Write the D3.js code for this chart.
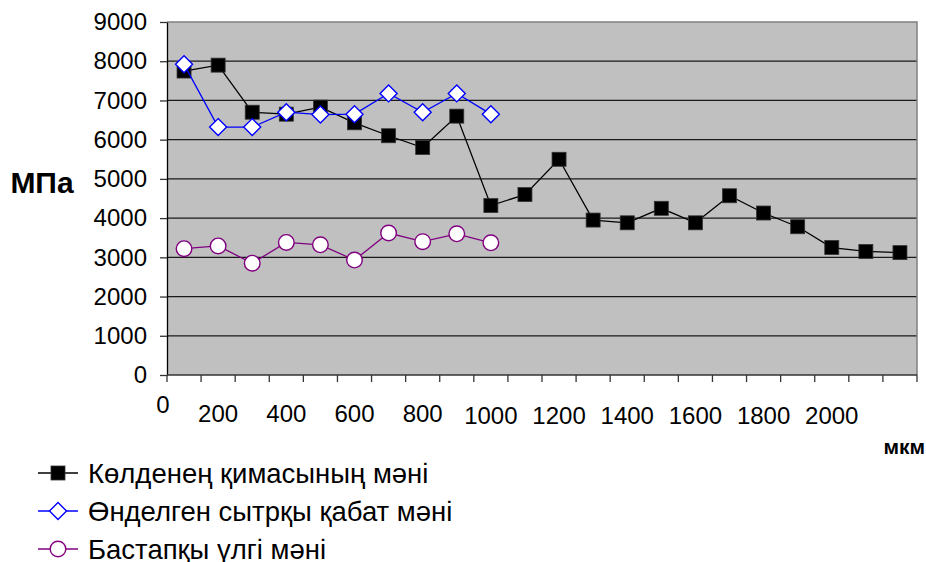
<!DOCTYPE html>
<html>
<head>
<meta charset="utf-8">
<script src="https://cdn.jsdelivr.net/npm/d3@7"></script>
<style>
  body { margin: 0; background: #fff; }
  text { font-family: "Liberation Sans", Arial, sans-serif; fill: #000; }
</style>
</head>
<body>
<div id="chart"></div>
<script>
// categories (22 measuring points along the depth)
var categories = d3.range(1, 23);

// series values, MPa
var seriesBlack = [7750, 7900, 6700, 6650, 6830, 6430, 6100, 5800, 6600, 4320, 4600,
                   5500, 3950, 3880, 4250, 3880, 4570, 4130, 3780, 3250, 3150, 3120];
var seriesBlue = [7920, 6320, 6320, 6700, 6640, 6650, 7180, 6700, 7180, 6650];
var seriesPurple = [3220, 3290, 2850, 3380, 3320, 2930, 3620, 3400, 3600, 3370];

var seriesNames = ["Көлденең қимасының мәні", "Өнделген сытрқы қабат мәні", "Бастапқы үлгі мәні"];

// tick labels
var yTicks = [0, 1000, 2000, 3000, 4000, 5000, 6000, 7000, 8000, 9000];
var xTickLabels = ["0", "200", "400", "600", "800", "1000", "1200", "1400", "1600", "1800", "2000"];

var width = 926, height = 562;
var margin = {top: 22, right: 9, bottom: 187, left: 167};
var plotW = width - margin.left - margin.right,
    plotH = height - margin.top - margin.bottom;

var svg = d3.select("#chart")
  .append("svg")
    .attr("width", width)
    .attr("height", height);

var g = svg.append("g")
    .attr("transform", "translate(" + margin.left + "," + margin.top + ")");

var x = d3.scaleBand()
    .domain(categories)
    .range([0, plotW]);

var y = d3.scaleLinear()
    .domain([0, 9000])
    .range([plotH, 0]);

function cx(i) { return x(categories[i]) + x.bandwidth() / 2; }

// plot area
g.append("rect")
  .attr("width", plotW)
  .attr("height", plotH)
  .attr("fill", "#c0c0c0");

// gridlines
g.selectAll("line.grid")
  .data(yTicks.slice(1, -1))
  .enter()
  .append("line")
  .attr("class", "grid")
  .attr("x1", 0).attr("x2", plotW)
  .attr("y1", function(d) { return y(d); })
  .attr("y2", function(d) { return y(d); })
  .attr("stroke", "#1a1a1a")
  .attr("stroke-width", 1.3);

// top and right border
g.append("path")
  .attr("d", "M0," + y(9000) + "H" + plotW + "V" + plotH)
  .attr("fill", "none")
  .attr("stroke", "#808080")
  .attr("stroke-width", 1.5);

// y axis
var yAxis = g.append("g")
  .call(d3.axisLeft(y)
    .tickValues(yTicks)
    .tickFormat(d3.format("d"))
    .tickSize(7)
    .tickPadding(13)
    .tickSizeOuter(0));
yAxis.select(".domain").attr("stroke", "#000").attr("stroke-width", 1.3);
yAxis.selectAll(".tick line").attr("stroke", "#333").attr("stroke-width", 1.3);
yAxis.selectAll(".tick text")
  .attr("font-size", "24px")
  .attr("font-family", "'Liberation Sans', Arial, sans-serif")
  .attr("fill", "#000");

// x axis: ticks at category boundaries
var xAxis = g.append("g")
  .attr("transform", "translate(0," + plotH + ")");
xAxis.append("line")
  .attr("x1", 0).attr("x2", plotW)
  .attr("stroke", "#333")
  .attr("stroke-width", 1.3);
xAxis.selectAll("line.tick")
  .data(d3.range(categories.length + 1))
  .enter()
  .append("line")
  .attr("class", "tick")
  .attr("x1", function(d) { return d * x.step(); })
  .attr("x2", function(d) { return d * x.step(); })
  .attr("y1", 0).attr("y2", 7)
  .attr("stroke", "#333")
  .attr("stroke-width", 1.3);

// x labels: "0" at the origin, the rest under every other category
xAxis.selectAll("text.xlabel")
  .data(xTickLabels)
  .enter()
  .append("text")
  .attr("class", "xlabel")
  .attr("text-anchor", "middle")
  .attr("font-size", "24px")
  .attr("x", function(d, i) { return i == 0 ? -4 : cx(2 * i - 1); })
  .attr("y", function(d, i) { return i == 0 ? 38 : (i < 5 ? 47 : 49); })
  .text(function(d) { return d; });

// axis titles
svg.append("text")
  .attr("x", 42).attr("y", 193)
  .attr("text-anchor", "middle")
  .attr("font-size", "30px")
  .attr("font-weight", "bold")
  .text("МПа");

svg.append("text")
  .attr("x", 925).attr("y", 454)
  .attr("text-anchor", "end")
  .attr("font-size", "21px")
  .attr("font-weight", "bold")
  .text("мкм");

var line = d3.line()
  .x(function(d, i) { return cx(i); })
  .y(function(d) { return y(d); });

function drawMarker(sel, type, color) {
  if (type == "square") {
    sel.append("rect")
      .attr("x", -7).attr("y", -7)
      .attr("width", 14).attr("height", 14)
      .attr("fill", "#000")
      .attr("stroke", "#333")
      .attr("stroke-width", 0.8);
  } else if (type == "diamond") {
    sel.append("path")
      .attr("d", "M0,-8.5L8.5,0L0,8.5L-8.5,0Z")
      .attr("fill", "#fff")
      .attr("stroke", color)
      .attr("stroke-width", 1.4);
  } else {
    sel.append("circle")
      .attr("r", 7.8)
      .attr("fill", "#fff")
      .attr("stroke", color)
      .attr("stroke-width", 1.4);
  }
}

var series = [
  {values: seriesBlack, color: "#000", marker: "square"},
  {values: seriesBlue, color: "#0000ff", marker: "diamond"},
  {values: seriesPurple, color: "#800080", marker: "circle"}
];

series.forEach(function(s) {
  g.append("path")
    .datum(s.values)
    .attr("d", line)
    .attr("fill", "none")
    .attr("stroke", s.color)
    .attr("stroke-width", 1.3);

  g.selectAll(null)
    .data(s.values)
    .enter()
    .append("g")
    .attr("transform", function(d, i) { return "translate(" + cx(i) + "," + y(d) + ")"; })
    .each(function() { drawMarker(d3.select(this), s.marker, s.color); });
});

// legend
var legend = svg.selectAll("g.legend")
  .data(series)
  .enter()
  .append("g")
  .attr("class", "legend")
  .attr("transform", function(d, i) { return "translate(38," + (473 + i * 38) + ")"; });

legend.append("line")
  .attr("x1", 0).attr("x2", 40)
  .attr("stroke", function(d) { return d.color; })
  .attr("stroke-width", 1.3);

legend.append("g")
  .attr("transform", "translate(20,0)")
  .each(function(d) { drawMarker(d3.select(this), d.marker, d.color); });

legend.append("text")
  .attr("x", 50)
  .attr("y", 10)
  .attr("font-size", "27.5px")
  .text(function(d, i) { return seriesNames[i]; });
</script>
</body>
</html>
